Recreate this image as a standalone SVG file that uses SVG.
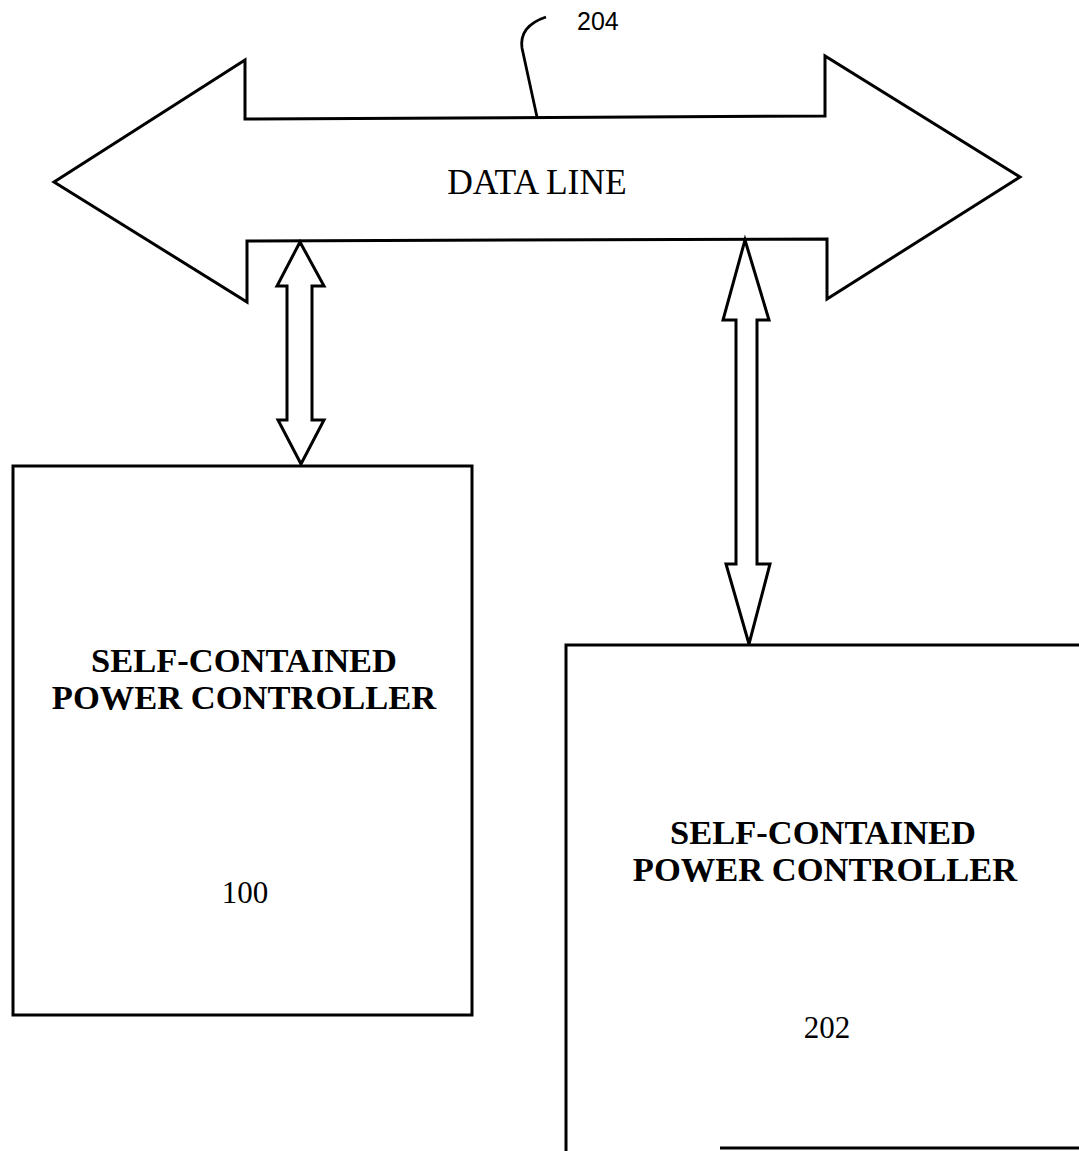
<svg xmlns="http://www.w3.org/2000/svg" width="1079" height="1151" viewBox="0 0 1079 1151">
<style>
.shape{fill:#fff;stroke:#000;stroke-width:3;stroke-linejoin:miter}
.line{fill:none;stroke:#000;stroke-width:2.8}
.title{font-family:"Liberation Serif","Times New Roman",serif;font-weight:bold;font-size:34.5px;text-anchor:middle;fill:#000}
.num{font-family:"Liberation Serif","Times New Roman",serif;font-size:31px;text-anchor:middle;fill:#000}
.ref{font-family:"Liberation Sans",Arial,sans-serif;font-size:25px;fill:#000}
</style>
<rect width="1079" height="1151" fill="#fff"/>
<g id="data-line">
<polygon class="shape" points="54,182 245,60 245,119 825,116 825,56 1020,177 827,299 827,239 247,241 247,302"/>
<text x="537" y="194" class="num" style="font-size:35.5px">DATA LINE</text>
</g>
<g id="label-204">
<path class="line" d="M537,117 L522,48 Q519,26 546,17"/>
<text x="577" y="30" class="ref">204</text>
</g>
<g id="connectors">
<polygon class="shape" points="300,242 324,286 312,286 312,420 324,420 301,464 278,420 287,420 287,286 277,286"/>
<polygon class="shape" points="745,240 769,320 757,320 757,564 770,564 749,644 726,564 736,564 736,320 723,320"/>
</g>
<g id="node-100">
<rect class="shape" x="13" y="466" width="459" height="549"/>
<text x="244" y="672" class="title">SELF-CONTAINED</text>
<text x="244" y="709" class="title">POWER CONTROLLER</text>
<text x="245" y="903" class="num">100</text>
</g>
<g id="node-202">
<path class="shape" d="M1080,645 L566,645 L566,1152"/>
<path class="line" d="M720,1148 L1080,1148"/>
<text x="823" y="844" class="title">SELF-CONTAINED</text>
<text x="825" y="881" class="title">POWER CONTROLLER</text>
<text x="827" y="1038" class="num">202</text>
</g>
</svg>
